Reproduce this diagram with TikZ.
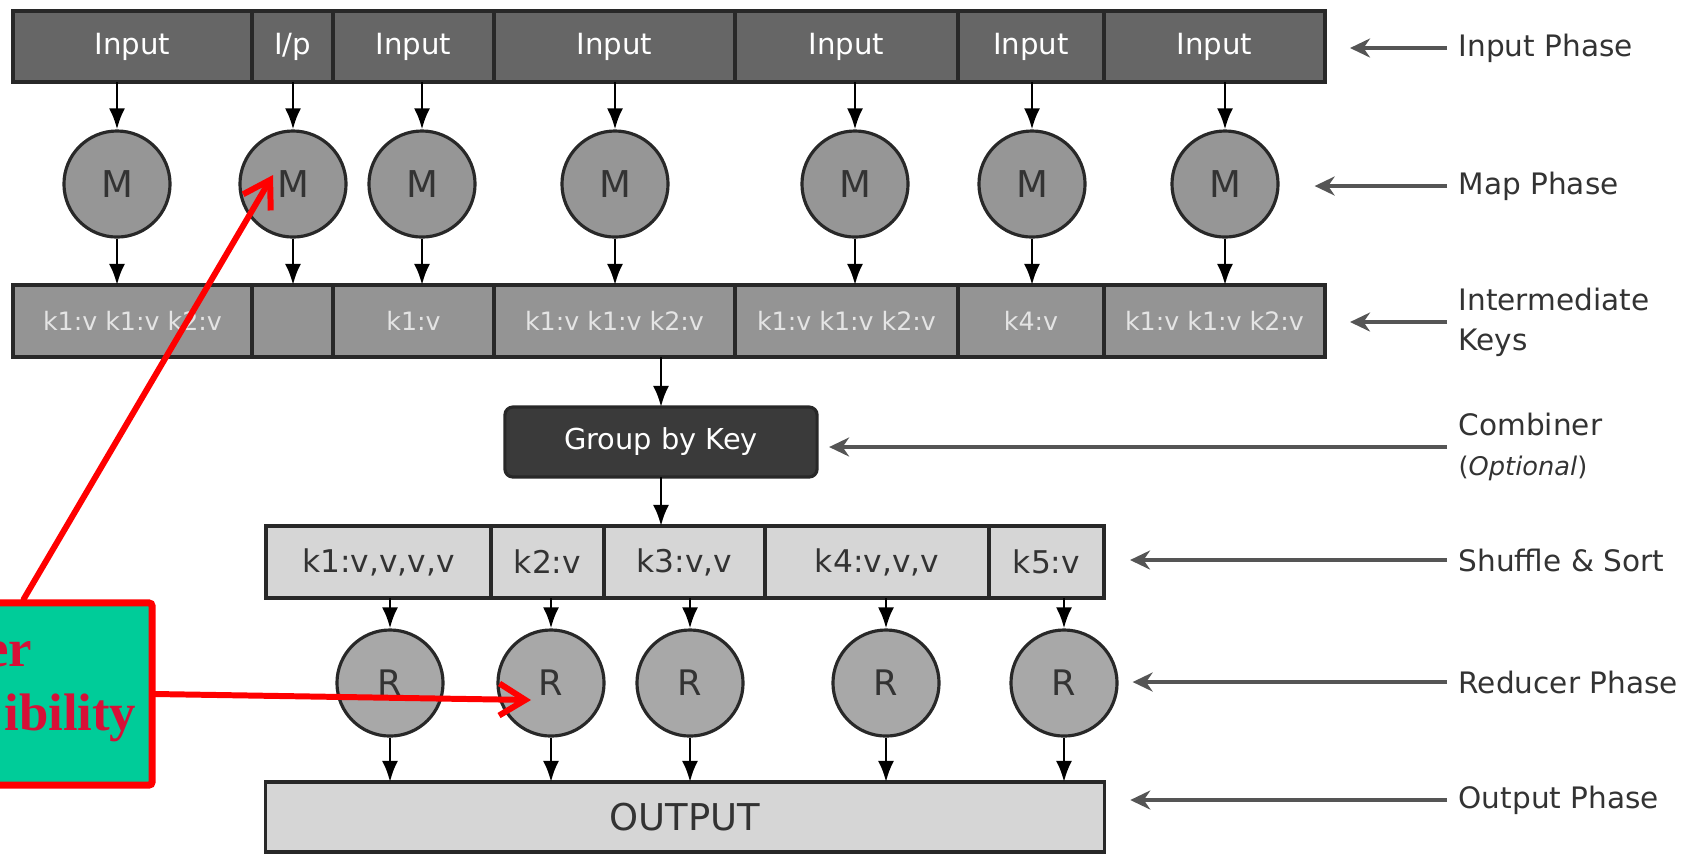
\documentclass[tikz,border=0pt]{standalone}
\usepackage{fontspec}
\setmainfont{DejaVu Sans}
\newfontfamily\notefont{Liberation Serif}
\usetikzlibrary{arrows.meta}
\definecolor{inputGray}{RGB}{102,102,102}
\definecolor{mapGray}{RGB}{150,150,150}
\definecolor{keyGray}{RGB}{148,148,148}
\definecolor{keyText}{RGB}{228,228,228}
\definecolor{groupGray}{RGB}{58,58,58}
\definecolor{sortGray}{RGB}{214,214,214}
\definecolor{reduceGray}{RGB}{168,168,168}
\definecolor{edgeGray}{RGB}{40,40,40}
\definecolor{labelGray}{RGB}{85,85,85}
\definecolor{noteGreen}{RGB}{0,204,153}
\definecolor{noteRed}{RGB}{255,0,0}
\definecolor{noteText}{RGB}{215,15,55}

\tikzset{
  cell/.style={draw=edgeGray, line width=0.9pt, inner sep=0pt, outer sep=0pt, minimum height=0.71cm},
  job/.style={circle, draw=edgeGray, line width=0.9pt, inner sep=0pt, minimum size=1.06cm, text=black!80},
  flow/.style={-{Latex[length=2.1mm,width=1.6mm]}, line width=0.8pt, black},
  phase/.style={-{Stealth[length=2mm,width=1.9mm]}, line width=0.9pt, labelGray},
  phaselabel/.style={anchor=west, align=left, inner sep=0.11cm, text=black!80, font=\fontsize{8.4}{11.4}\selectfont},
  pointer/.style={-{Straight Barb[length=2.6mm,width=3.2mm]}, line width=1.7pt, noteRed, line cap=round, line join=round},
}

\begin{document}
\begin{tikzpicture}[x=0.01cm, y=-0.01cm]
    \useasboundingbox (0,0) rectangle (1697,853);
    \clip (0,0) rectangle (1697,853);

    % Input splits
    \foreach \xa/\xb/\txt [count=\i] in {13/252/Input, 252/333/I\slash p, 333/494/Input, 494/735/Input, 735/958/Input, 958/1104/Input, 1104/1325/Input} {
        \node[cell, fill=inputGray, text=white, minimum width={(\xb-\xa)*0.01cm}, font=\fontsize{8.3}{10}\selectfont] (in\i) at ({(\xa+\xb)/2},46.5) {\txt};
    }

    % Mappers
    \foreach \x [count=\i] in {117,293,422,615,855,1032,1225} {
        \node[job, fill=mapGray, font=\fontsize{10.5}{12}\selectfont] (m\i) at (\x,184) {M};
    }

    % Intermediate keys
    \foreach \xa/\xb/\txt [count=\i] in {13/252/{k1:v k1:v k2:v}, 252/333/{}, 333/494/{k1:v}, 494/735/{k1:v k1:v k2:v}, 735/958/{k1:v k1:v k2:v}, 958/1104/{k4:v}, 1104/1325/{k1:v k1:v k2:v}} {
        \node[cell, fill=keyGray, text=keyText, minimum width={(\xb-\xa)*0.01cm}, minimum height=0.72cm, font=\fontsize{7.2}{9}\selectfont] (key\i) at ({(\xa+\xb)/2},321) {\txt};
    }
    \foreach \i in {1,...,7} {
        \draw[flow] (in\i.south -| m\i) -- (m\i.north);
        \draw[flow] (m\i.south) -- (m\i |- key\i.north);
    }

    % Combiner
    \node[cell, fill=groupGray, rounded corners=0.08cm, minimum width=3.12cm, minimum height=0.7cm, text=white, font=\fontsize{8.2}{10}\selectfont] (grp) at (661,442) {Group by Key};

    % Shuffle and sort
    \foreach \xa/\xb/\txt [count=\i] in {266/491/{k1:v,v,v,v}, 491/604/{k2:v}, 604/765/{k3:v,v}, 765/989/{k4:v,v,v}, 989/1104/{k5:v}} {
        \node[cell, fill=sortGray, text=black!80, minimum width={(\xb-\xa)*0.01cm}, minimum height=0.72cm, font=\fontsize{8.9}{10}\selectfont] (sh\i) at ({(\xa+\xb)/2},562) {\txt};
    }
    \draw[flow] (key4.south -| grp) -- (grp.north);
    \draw[flow] (grp.south) -- (grp |- sh3.north);

    % Reducers and output
    \node[cell, fill=sortGray, text=black!80, minimum width=8.38cm, minimum height=0.7cm, font=\fontsize{10.5}{12}\selectfont] (out) at (685,817) {OUTPUT};
    \foreach \x [count=\i] in {390,551,690,886,1064} {
        \node[job, fill=reduceGray, font=\fontsize{10}{12}\selectfont] (r\i) at (\x,683) {R};
        \draw[flow] (sh\i.south -| r\i) -- (r\i.north);
        \draw[flow] (r\i.south) -- (r\i |- out.north);
    }

    % Phase labels
    \node[phaselabel] (lin) at (1447,48) {Input Phase};
    \node[phaselabel] (lmap) at (1447,186) {Map Phase};
    \node[phaselabel] (lkey) at (1447,322) {Intermediate\\Keys};
    \node[phaselabel] (lcomb) at (1447,447) {Combiner\\{\fontsize{7.3}{9}\selectfont(\textit{Optional})}};
    \node[phaselabel] (lsort) at (1447,560) {Shuffle \& Sort};
    \node[phaselabel] (lred) at (1447,682) {Reducer Phase};
    \node[phaselabel] (lout) at (1447,800) {Output Phase};
    \draw[phase] (lin.west) -- ([xshift=0.25cm]in7.east |- lin.west);
    \draw[phase] (lmap.west) -- ([xshift=0.35cm]m7.east |- lmap.west);
    \draw[phase] (lkey.west) -- ([xshift=0.25cm]key7.east |- lkey.west);
    \draw[phase] (lcomb.west) -- ([xshift=0.12cm]grp.east |- lcomb.west);
    \draw[phase] (lsort.west) -- ([xshift=0.26cm]sh5.east |- lsort.west);
    \draw[phase] (lred.west) -- ([xshift=0.14cm]r5.east |- lred.west);
    \draw[phase] (lout.west) -- ([xshift=0.26cm]out.east |- lout.west);

    % Annotation
    \node[draw=noteRed, line width=2pt, fill=noteGreen, rounded corners=0.03cm, minimum width=2.12cm, minimum height=1.82cm, inner sep=0pt] (note) at (46,694) {};
    \node[anchor=base east, inner sep=0pt, text=noteText, font=\notefont\bfseries\fontsize{15}{18}\selectfont] (noteA) at (33,666) {er};
    \node[anchor=base east, inner sep=0pt, text=noteText, font=\notefont\bfseries\fontsize{15}{18}\selectfont] (noteB) at (137,730) {ibility};
    \coordinate (mtip) at ([shift={(-20,-9)}]m2.center);
    \coordinate (rtip) at ([shift={(-20,17)}]r2.center);
    \draw[pointer] ([xshift=-1.32cm]note.north east) -- (mtip);
    \draw[pointer] (note.east) -- (rtip);
\end{tikzpicture}
\end{document}
